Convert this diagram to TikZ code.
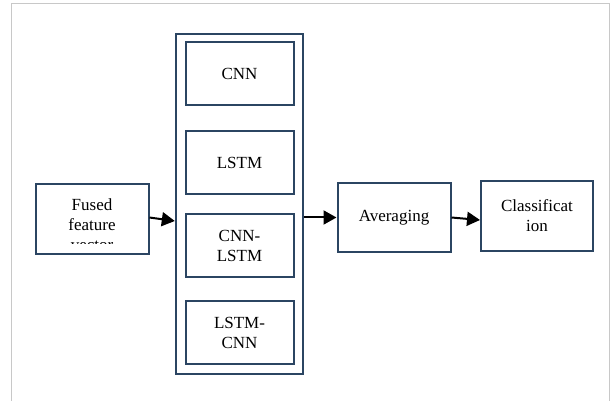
\documentclass[tikz,border=0pt]{standalone}
\usepackage{fontspec}
\setmainfont{Liberation Serif}
\usepackage{tikz}
\usetikzlibrary{positioning}
\usetikzlibrary{arrows.meta}

\definecolor{boxblue}{HTML}{2B4562}
\definecolor{framegray}{HTML}{C8C8C8}

\begin{document}
\begin{tikzpicture}[x=1pt, y=-1pt,
    box/.style={draw=boxblue, line width=2pt, fill=white, inner sep=0pt,
      minimum width=108pt, minimum height=63pt, align=center,
      font=\fontsize{17}{20}\selectfont},
    stage/.style={box, minimum width=113pt, minimum height=70pt},
    flow/.style={-{Triangle[length=13pt,width=14pt]}, line width=2pt}]
  \useasboundingbox (0,0) rectangle (611,401);

  % page frame
  \draw[framegray, line width=1.5pt] (11.5,401) -- (11.5,3.5) -- (609.5,3.5) -- (609.5,401);

  % model stack
  \node[draw=boxblue, line width=2.4pt, minimum width=127pt, minimum height=340pt] (stack) at (239.5,204) {};
  \foreach \t/\y [count=\n] in {CNN/74, LSTM/162.5, {CNN-\\LSTM}/245.5, {LSTM-\\CNN}/332.5} {
    \node[box] (m\n) at (239.5,\y) {\t};
  }

  % input and output stages
  \node[stage] (fused) at (92,219) {};
  \begin{scope}
    \clip (fused.north west) rectangle ([yshift=12pt]fused.south east);
    \node[anchor=north, align=center, inner sep=0pt, font=\fontsize{17}{20}\selectfont] (fusedtext) at (92,199) {Fused\\feature\\vector};
  \end{scope}
  \node[stage, minimum height=69pt] (avg) at (394,217.5) {Averaging};
  \node[stage, minimum width=112pt] (cls) at (537,216) {Classificat\\ion};

  % arrows
  \draw[flow] ([yshift=1.5pt]fused.east) -- ([yshift=-2pt]fused.east -| stack.west);
  \draw[flow] (stack.east |- avg.west) -- (avg.west);
  \draw[flow] (avg.east) -- ([yshift=-4pt]cls.west);
\end{tikzpicture}
\end{document}
